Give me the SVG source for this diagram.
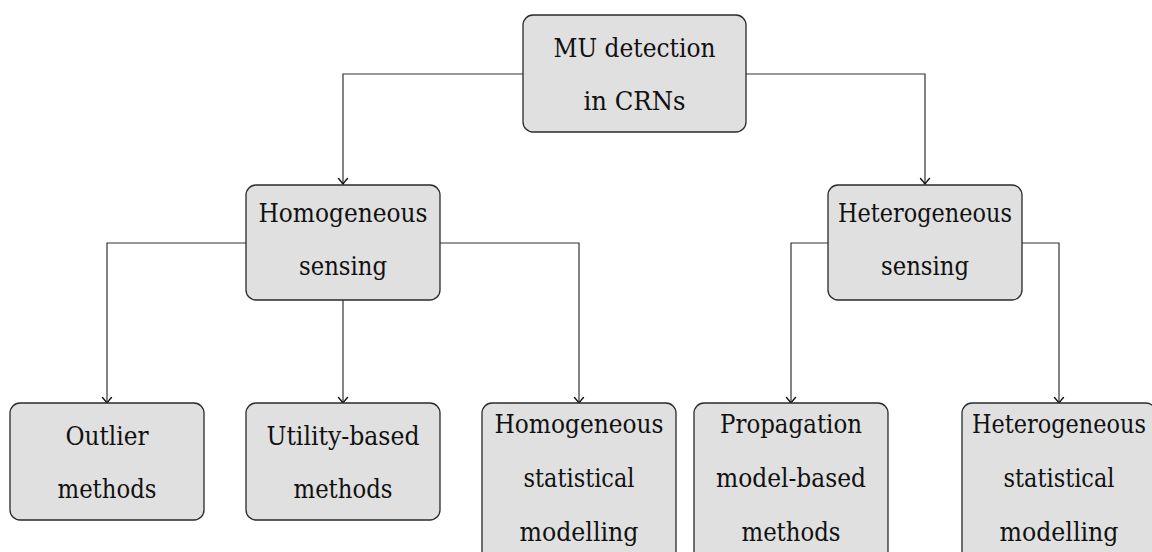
<svg xmlns="http://www.w3.org/2000/svg" width="1152" height="552" viewBox="0 0 1152 552">
  <style>
    .box { fill: #e0e0e0; stroke: #2a2a2a; stroke-width: 1.3; }
    .lbl { font-family: "DejaVu Serif", serif; font-stretch: condensed; font-size: 25.5px; fill: #111; text-anchor: middle; }
    .edge { fill: none; stroke: #333; stroke-width: 1.2; marker-end: url(#tip); }
  </style>
  <defs>
    <marker id="tip" viewBox="-7 -6 9 12" refX="0" refY="0" markerWidth="9" markerHeight="12" markerUnits="userSpaceOnUse" orient="auto">
      <path d="M -5.5 -4.5 Q -1.5 -1 0 0 Q -1.5 1 -5.5 4.5" fill="none" stroke="#111" stroke-width="1.4" stroke-linecap="round"/>
    </marker>
  </defs>

  <!-- connectors -->
  <g id="connectors">
    <path class="edge" d="M 523 74 H 343 V 184"/>
    <path class="edge" d="M 746 74 H 925 V 184"/>
    <path class="edge" d="M 246 243 H 107 V 403"/>
    <path class="edge" d="M 343 300 V 403"/>
    <path class="edge" d="M 440 243 H 579 V 403"/>
    <path class="edge" d="M 828 243 H 791 V 403"/>
    <path class="edge" d="M 1022 243 H 1059 V 403"/>
  </g>

  <!-- root -->
  <g id="mu-detection">
    <rect class="box" x="523" y="15" width="223" height="117" rx="10"/>
    <text class="lbl" x="634.5" y="57" textLength="162" lengthAdjust="spacingAndGlyphs">MU detection</text>
    <text class="lbl" x="634.5" y="110" textLength="102" lengthAdjust="spacingAndGlyphs">in CRNs</text>
  </g>

  <!-- second level -->
  <g id="homogeneous-sensing">
    <rect class="box" x="246" y="185" width="194" height="115" rx="10"/>
    <text class="lbl" x="343" y="222" textLength="169" lengthAdjust="spacingAndGlyphs">Homogeneous</text>
    <text class="lbl" x="343" y="275" textLength="88" lengthAdjust="spacingAndGlyphs">sensing</text>
  </g>
  <g id="heterogeneous-sensing">
    <rect class="box" x="828" y="185" width="194" height="115" rx="10"/>
    <text class="lbl" x="925" y="222" textLength="174" lengthAdjust="spacingAndGlyphs">Heterogeneous</text>
    <text class="lbl" x="925" y="275" textLength="88" lengthAdjust="spacingAndGlyphs">sensing</text>
  </g>

  <!-- leaves -->
  <g id="outlier-methods">
    <rect class="box" x="10" y="403" width="194" height="117" rx="10"/>
    <text class="lbl" x="107" y="445" textLength="83" lengthAdjust="spacingAndGlyphs">Outlier</text>
    <text class="lbl" x="107" y="498" textLength="99" lengthAdjust="spacingAndGlyphs">methods</text>
  </g>
  <g id="utility-based-methods">
    <rect class="box" x="246" y="403" width="194" height="117" rx="10"/>
    <text class="lbl" x="343" y="445" textLength="153" lengthAdjust="spacingAndGlyphs">Utility-based</text>
    <text class="lbl" x="343" y="498" textLength="99" lengthAdjust="spacingAndGlyphs">methods</text>
  </g>
  <g id="homogeneous-statistical-modelling">
    <rect class="box" x="482" y="403" width="194" height="170" rx="10"/>
    <text class="lbl" x="579" y="433" textLength="169" lengthAdjust="spacingAndGlyphs">Homogeneous</text>
    <text class="lbl" x="579" y="487" textLength="111" lengthAdjust="spacingAndGlyphs">statistical</text>
    <text class="lbl" x="579" y="541" textLength="119" lengthAdjust="spacingAndGlyphs">modelling</text>
  </g>
  <g id="propagation-model-based-methods">
    <rect class="box" x="694" y="403" width="194" height="170" rx="10"/>
    <text class="lbl" x="791" y="433" textLength="142" lengthAdjust="spacingAndGlyphs">Propagation</text>
    <text class="lbl" x="791" y="487" textLength="150" lengthAdjust="spacingAndGlyphs">model-based</text>
    <text class="lbl" x="791" y="541" textLength="99" lengthAdjust="spacingAndGlyphs">methods</text>
  </g>
  <g id="heterogeneous-statistical-modelling">
    <rect class="box" x="962" y="403" width="194" height="170" rx="10"/>
    <text class="lbl" x="1059" y="433" textLength="174" lengthAdjust="spacingAndGlyphs">Heterogeneous</text>
    <text class="lbl" x="1059" y="487" textLength="111" lengthAdjust="spacingAndGlyphs">statistical</text>
    <text class="lbl" x="1059" y="541" textLength="119" lengthAdjust="spacingAndGlyphs">modelling</text>
  </g>
</svg>
